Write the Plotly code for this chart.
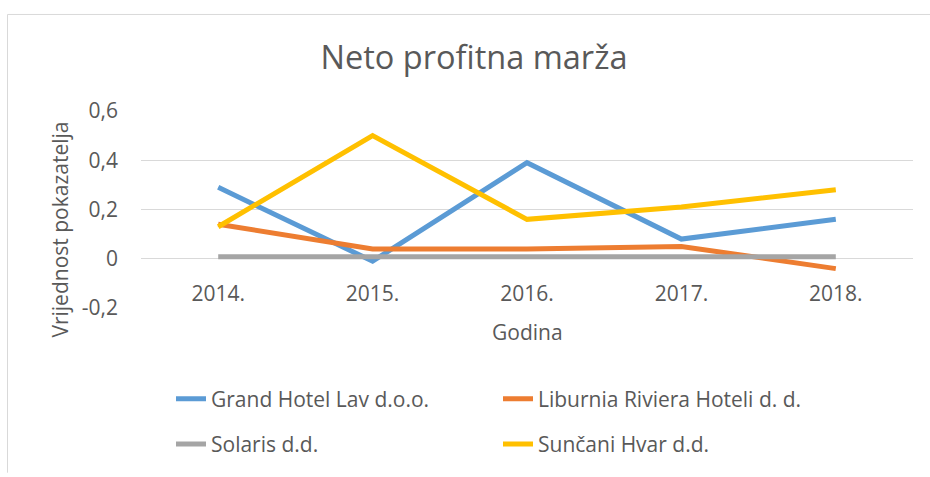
import plotly.graph_objects as go

years = ["2014.", "2015.", "2016.", "2017.", "2018."]
grand_hotel_lav = [0.29, -0.01, 0.39, 0.08, 0.16]
liburnia = [0.14, 0.04, 0.04, 0.05, -0.04]
solaris = [0.008, 0.008, 0.008, 0.008, 0.008]
suncani_hvar = [0.13, 0.50, 0.16, 0.21, 0.28]

y_tick_vals = [0.6, 0.4, 0.2, 0, -0.2]
y_tick_text = ["0,6", "0,4", "0,2", "0", "-0,2"]

series = [
    ("Grand Hotel Lav d.o.o.", grand_hotel_lav, "#5B9BD5", "legend"),
    ("Liburnia Riviera Hoteli d. d.", liburnia, "#ED7D31", "legend"),
    ("Solaris d.d.", solaris, "#A5A5A5", "legend2"),
    ("Sunčani Hvar d.d.", suncani_hvar, "#FFC000", "legend2"),
]

FONT = "Open Sans"
TXT = "#595959"
GRID = "#d9d9d9"

fig = go.Figure()
for name, vals, color, lg in series:
    fig.add_trace(go.Scatter(
        x=years, y=vals, name=name, mode="lines",
        line=dict(color=color, width=5), legend=lg,
    ))

W, H = 930, 477
L, R, T, B = 141, 17, 111, 165
pw = W - L - R
ph = H - T - B

def px_x(p):
    return (p - L) / pw

def px_y(p):
    return (H - B - p) / ph

legend_common = dict(
    orientation="h", xanchor="left", yanchor="middle",
    font=dict(family=FONT, size=21, color=TXT),
    entrywidth=282, entrywidthmode="pixels",
    bgcolor="rgba(0,0,0,0)", borderwidth=0,
    itemwidth=30,
)

fig.update_layout(
    width=W, height=H,
    margin=dict(l=L, r=R, t=T, b=B, pad=0),
    paper_bgcolor="white", plot_bgcolor="white",
    font=dict(family=FONT, color=TXT),
    title=dict(text="Neto profitna marža", x=474 / W, xanchor="center",
               y=1 - 58 / H, yanchor="middle", xref="container",
               yref="container",
               font=dict(family=FONT, size=32.5, color=TXT)),
    showlegend=True,
    legend=dict(x=px_x(171), y=px_y(405), **legend_common),
    legend2=dict(x=px_x(171), y=px_y(451), **legend_common),
    xaxis=dict(
        type="category", range=[-0.5, 4.5],
        anchor="free", position=0.25,
        showline=False, showgrid=False, zeroline=False, ticks="",
        tickfont=dict(family=FONT, size=21, color=TXT),
        ticklabelstandoff=20,
    ),
    yaxis=dict(
        range=[-0.2, 0.6], tickvals=y_tick_vals, ticktext=y_tick_text,
        showgrid=True, gridcolor=GRID, gridwidth=1,
        zeroline=True, zerolinecolor=GRID, zerolinewidth=1,
        showline=False, ticks="",
        tickfont=dict(family=FONT, size=21, color=TXT),
        ticklabelstandoff=22,
    ),
    annotations=[
        dict(text="Vrijednost pokazatelja", textangle=-90,
             xref="paper", yref="paper", x=px_x(60), y=px_y(232),
             xanchor="center", yanchor="middle", showarrow=False,
             font=dict(family=FONT, size=21, color=TXT)),
        dict(text="Godina", xref="paper", yref="paper",
             x=px_x(527), y=px_y(336), xanchor="center", yanchor="middle",
             showarrow=False, font=dict(family=FONT, size=21, color=TXT)),
    ],
    shapes=[
        dict(type="line", xref="paper", yref="paper",
             x0=px_x(7.5), x1=px_x(7.5), y0=px_y(12.5), y1=px_y(480),
             line=dict(color=GRID, width=1)),
        dict(type="line", xref="paper", yref="paper",
             x0=px_x(7.5), x1=px_x(935), y0=px_y(12.5), y1=px_y(12.5),
             line=dict(color=GRID, width=1)),
    ],
)

fig.write_html(
    "out.html", config={"displayModeBar": False},
    post_script=("document.body.style.margin='0';"
                 "document.body.style.padding='0';"
                 "document.body.style.overflow='hidden';"
                 "document.documentElement.style.overflow='hidden';"),
)
